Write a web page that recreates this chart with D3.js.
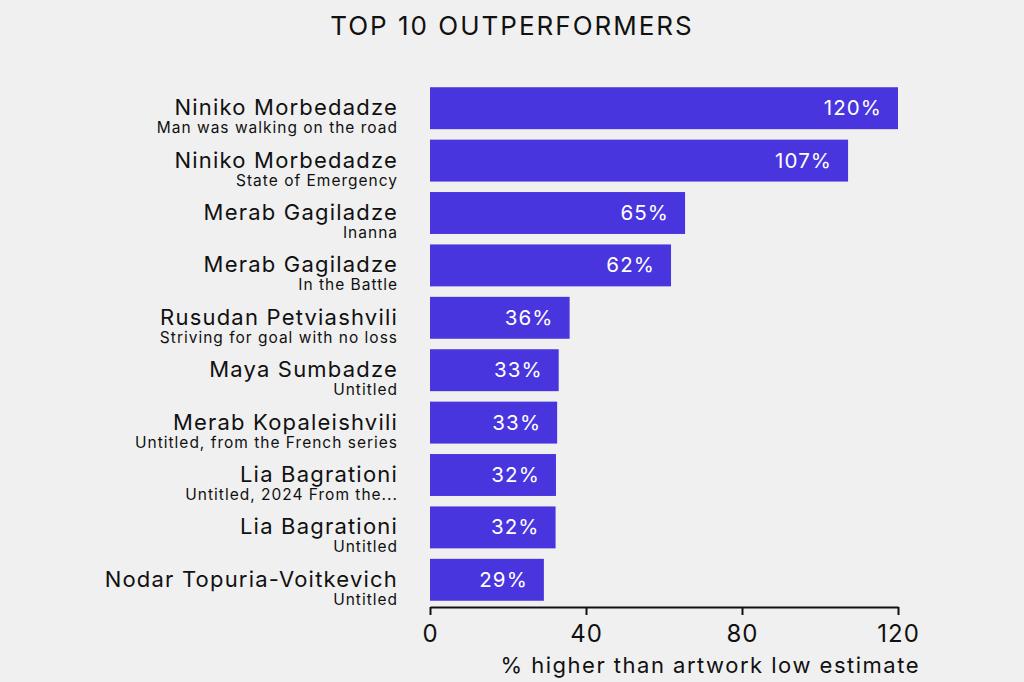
<!DOCTYPE html>
<html><head><meta charset="utf-8">
<script src="https://cdn.jsdelivr.net/npm/d3@7"></script>
<style>
html,body{margin:0;padding:0;background:#f0f0f0;}
text{font-family:Inter,"Noto Sans",sans-serif;}
</style></head>
<body>
<svg id="chart" width="1024" height="682"></svg>
<script>
const artists = ["Niniko Morbedadze","Niniko Morbedadze","Merab Gagiladze","Merab Gagiladze","Rusudan Petviashvili","Maya Sumbadze","Merab Kopaleishvili","Lia Bagrationi","Lia Bagrationi","Nodar Topuria-Voitkevich"];
const artworks = ["Man was walking on the road","State of Emergency","Inanna","In the Battle","Striving for goal with no loss","Untitled","Untitled, from the French series","Untitled, 2024 From the...","Untitled","Untitled"];
const values = [120.0, 107.2, 65.4, 61.8, 35.8, 33.0, 32.6, 32.3, 32.2, 29.2];
const xTicks = [0, 40, 80, 120];
const titleText = "TOP 10 OUTPERFORMERS";
const xLabel = "% higher than artwork low estimate";

const svg = d3.select("#chart");
svg.append("rect").attr("width",1024).attr("height",682).attr("fill","#f0f0f0");

const idx = d3.range(values.length);
const x = d3.scaleLinear().domain([0,120]).range([430,898]);
const y = d3.scaleBand().domain(idx).range([82,606]).paddingInner(0.2).paddingOuter(0.1);

svg.append("text").attr("x",512).attr("y",35).attr("text-anchor","middle")
  .attr("font-size",26).attr("letter-spacing",2).attr("fill","#111").text(titleText);

svg.selectAll("rect.bar").data(idx).join("rect").attr("class","bar")
  .attr("x",x(0)).attr("y",i=>y(i)).attr("width",i=>x(values[i])-x(0))
  .attr("height",y.bandwidth()).attr("fill","#4935de");

svg.selectAll("text.val").data(idx).join("text").attr("class","val")
  .attr("x",i=>x(values[i])-16).attr("y",i=>y(i)+y.bandwidth()/2+7)
  .attr("text-anchor","end").attr("font-size",20.5).attr("letter-spacing",1.1).attr("fill","#fff")
  .text(i=>Math.round(values[i])+"%");

svg.selectAll("text.name").data(idx).join("text").attr("class","name")
  .attr("x",398).attr("y",i=>y(i)+y.bandwidth()/2+7)
  .attr("text-anchor","end").attr("font-size",22).attr("letter-spacing",1.2).attr("fill","#111")
  .text(i=>artists[i]);
svg.selectAll("text.work").data(idx).join("text").attr("class","work")
  .attr("x",398).attr("y",i=>y(i)+y.bandwidth()/2+25)
  .attr("text-anchor","end").attr("font-size",15.5).attr("letter-spacing",1).attr("fill","#111")
  .text(i=>artworks[i]);

const ax = svg.append("g").attr("transform","translate(0,607)")
  .call(d3.axisBottom(x).tickValues(xTicks).tickSize(8).tickPadding(10).tickSizeOuter(0));
ax.select(".domain").attr("stroke","#111").attr("stroke-width",2);
ax.selectAll(".tick line").attr("stroke","#111").attr("stroke-width",2);
ax.selectAll(".tick text").attr("font-size",24).attr("letter-spacing",1).attr("fill","#111").attr("font-family","Inter,'Noto Sans',sans-serif");

svg.append("text").attr("x",920).attr("y",673).attr("text-anchor","end")
  .attr("font-size",22).attr("letter-spacing",1.5).attr("fill","#111").text(xLabel);
</script>
</body></html>
